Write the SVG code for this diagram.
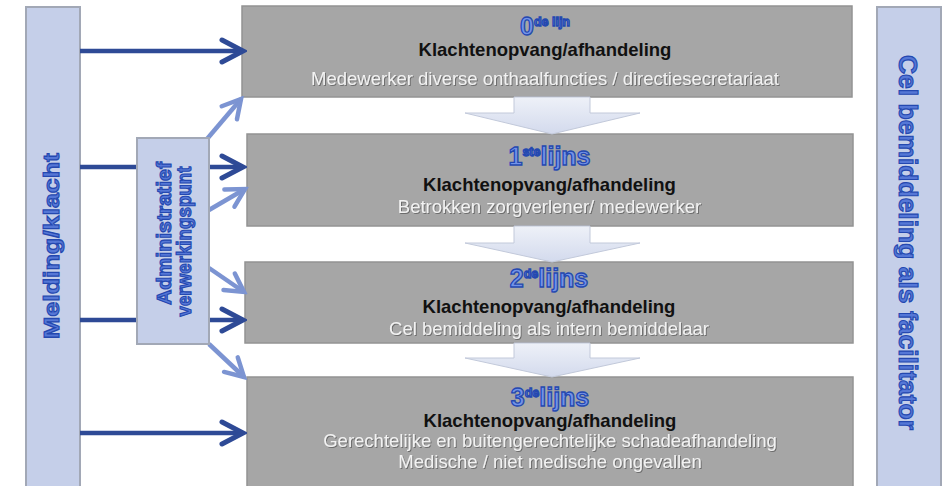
<svg xmlns="http://www.w3.org/2000/svg" width="944" height="486" viewBox="0 0 944 486">
<defs>
<style>
.bar{fill:#c5cfe9;stroke:#a2a8b6;stroke-width:2}
.box{fill:#a6a6a6;stroke:#939393;stroke-width:1.5}
.ttl{font-family:"Liberation Sans",Arial,sans-serif;font-weight:bold;fill:#7393e8;stroke:#2448b0;stroke-width:1.3;text-anchor:middle}
.k{font-family:"Liberation Sans",Arial,sans-serif;font-weight:bold;font-size:18.5px;fill:#111;text-anchor:middle}
.sub{font-family:"Liberation Sans",Arial,sans-serif;font-size:18.5px;fill:#f2f2f2;text-anchor:middle;filter:url(#sh)}
.vt{font-family:"Liberation Sans",Arial,sans-serif;font-weight:bold;fill:#5577d6;stroke:#2448b0;stroke-width:1.1;text-anchor:middle}
.dk{stroke:#2e4a96;stroke-width:4.5;fill:none}
.lt{stroke:#7c94d2;stroke-width:4.5;fill:none}
.blk{fill:url(#bg);stroke:#c2c9da;stroke-width:1}
</style>
<linearGradient id="bg" x1="0" y1="0" x2="0" y2="1">
<stop offset="0" stop-color="#eef1f8"/>
<stop offset="1" stop-color="#d3daed"/>
</linearGradient>
<filter id="sh" x="-5%" y="-30%" width="110%" height="160%">
<feDropShadow dx="1" dy="1" stdDeviation="0.6" flood-color="#444" flood-opacity="0.6"/>
</filter>
<marker id="ad" markerUnits="userSpaceOnUse" viewBox="-26 -14 30 28" markerWidth="30" markerHeight="28" refX="0" refY="0" orient="auto">
<path d="M-21,-11 L0,0 L-21,11" fill="none" stroke="#2e4a96" stroke-width="5" stroke-linecap="round" stroke-linejoin="miter"/>
</marker>
<marker id="al" markerUnits="userSpaceOnUse" viewBox="-26 -14 30 28" markerWidth="30" markerHeight="28" refX="0" refY="0" orient="auto">
<path d="M-18,-10 L0,0 L-18,10" fill="none" stroke="#7c94d2" stroke-width="4.5" stroke-linecap="round" stroke-linejoin="miter"/>
</marker>
</defs>
<rect width="944" height="486" fill="#ffffff"/>

<g id="melding">
<rect class="bar" x="26" y="7" width="54" height="490"/>
<text class="vt" font-size="22" transform="translate(59,246) rotate(-90)" textLength="186" lengthAdjust="spacingAndGlyphs">Melding/klacht</text>
</g>

<g id="cel">
<rect class="bar" x="877" y="7" width="64" height="490"/>
<text class="vt" font-size="26" transform="translate(899,242.5) rotate(90)" textLength="375" lengthAdjust="spacingAndGlyphs">Cel bemiddeling als facilitator</text>
</g>

<g id="lijn0">
<rect class="box" x="242" y="6" width="610" height="91"/>
<text class="ttl" x="545" y="35"><tspan font-size="25">0</tspan><tspan font-size="12.5" dy="-9">de lijn</tspan></text>
<text class="k" x="545" y="56">Klachtenopvang/afhandeling</text>
<text class="sub" x="545" y="85">Medewerker diverse onthaalfuncties / directiesecretariaat</text>
</g>

<g id="lijn1">
<rect class="box" x="247" y="134" width="606" height="92"/>
<text class="ttl" x="549.5" y="165"><tspan font-size="25">1</tspan><tspan font-size="12.5" dy="-9">ste</tspan><tspan font-size="25" dy="9">lijns</tspan></text>
<text class="k" x="549.5" y="191">Klachtenopvang/afhandeling</text>
<text class="sub" x="549.5" y="213">Betrokken zorgverlener/ medewerker</text>
</g>

<g id="lijn2">
<rect class="box" x="245" y="262" width="608" height="81"/>
<text class="ttl" x="549" y="287"><tspan font-size="25">2</tspan><tspan font-size="12.5" dy="-9">de</tspan><tspan font-size="25" dy="9">lijns</tspan></text>
<text class="k" x="549" y="313">Klachtenopvang/afhandeling</text>
<text class="sub" x="549" y="335">Cel bemiddeling als intern bemiddelaar</text>
</g>

<g id="lijn3">
<rect class="box" x="247" y="377" width="606" height="120"/>
<text class="ttl" x="550" y="406"><tspan font-size="25">3</tspan><tspan font-size="12.5" dy="-9">de</tspan><tspan font-size="25" dy="9">lijns</tspan></text>
<text class="k" x="550" y="427">Klachtenopvang/afhandeling</text>
<text class="sub" x="550" y="447">Gerechtelijke en buitengerechtelijke schadeafhandeling</text>
<text class="sub" x="550" y="468">Medische / niet medische ongevallen</text>
</g>

<g id="connectors">
<path class="blk" d="M514,97 L590,97 L590,113 L640,113 L552,134 L465,113 L514,113 Z"/>
<path class="blk" d="M514,226 L590,226 L590,243 L640,243 L552,262 L465,243 L514,243 Z"/>
<path class="blk" d="M514,343 L590,343 L590,358 L640,358 L552,377 L465,358 L514,358 Z"/>
<line class="dk" x1="80" y1="51" x2="243" y2="51" marker-end="url(#ad)"/>
<line class="dk" x1="80" y1="167" x2="243" y2="167" marker-end="url(#ad)"/>
<line class="dk" x1="80" y1="320" x2="243" y2="320" marker-end="url(#ad)"/>
<line class="dk" x1="80" y1="433" x2="243" y2="433" marker-end="url(#ad)"/>
<line class="lt" x1="207" y1="139" x2="241" y2="99" marker-end="url(#al)"/>
<line class="lt" x1="209" y1="210" x2="245" y2="189" marker-end="url(#al)"/>
<line class="lt" x1="209" y1="268" x2="244" y2="292" marker-end="url(#al)"/>
<line class="lt" x1="209" y1="344" x2="244" y2="377" marker-end="url(#al)"/>
</g>

<g id="admin">
<rect class="bar" x="137" y="138" width="72" height="206"/>
<text class="vt" font-size="20" transform="translate(171,233.5) rotate(-90)" textLength="143" lengthAdjust="spacingAndGlyphs">Administratief</text>
<text class="vt" font-size="20" transform="translate(191,241.5) rotate(-90)" textLength="150" lengthAdjust="spacingAndGlyphs">verwerkingspunt</text>
</g>
</svg>
